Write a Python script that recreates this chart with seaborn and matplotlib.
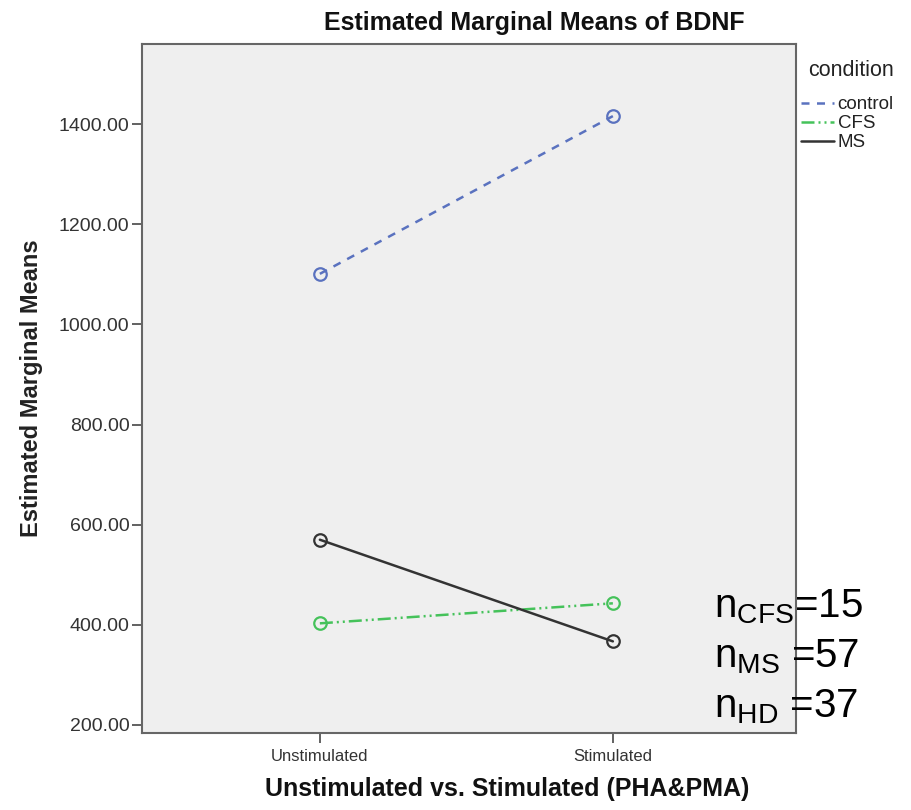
import matplotlib
matplotlib.use("Agg")
import matplotlib.pyplot as plt
from matplotlib.lines import Line2D
import seaborn as sns
import pandas as pd

# ---- data ----
stimulation = ["Unstimulated", "Stimulated"]
conditions = ["control", "CFS", "MS"]
control_means = [1101, 1416]
cfs_means = [403, 443]
ms_means = [570, 367]
n_labels = [("CFS", "=15"), ("MS", " =57"), ("HD", " =37")]

df = pd.DataFrame({
    "stim": stimulation * 3,
    "condition": ["control"] * 2 + ["CFS"] * 2 + ["MS"] * 2,
    "value": control_means + cfs_means + ms_means,
})

sns.set_theme(style="white")
plt.rcParams["font.family"] = ["Liberation Sans", "DejaVu Sans"]
plt.rcParams["mathtext.fontset"] = "custom"
plt.rcParams["mathtext.rm"] = "Liberation Sans"

palette = {"control": "#5a72bf", "CFS": "#45c25a", "MS": "#333333"}
dashes = {"control": (3.2, 3.0), "CFS": (5.2, 1.6, 0.8, 1.6, 0.8, 1.6), "MS": ""}
markers = {"control": "o", "CFS": "o", "MS": "o"}

fig = plt.figure(figsize=(9.12, 8.10), dpi=100)
ax = fig.add_axes([142 / 912, 1 - 733 / 810, (796 - 142) / 912, (733 - 44) / 810])
ax.set_facecolor("#efefef")

sns.lineplot(data=df, x="stim", y="value", hue="condition", style="condition",
             hue_order=conditions, style_order=conditions, palette=palette,
             dashes=dashes, markers=markers, sort=False, legend=False,
             linewidth=1.8, markersize=9, ax=ax)

for ln in ax.lines:
    c = ln.get_color()
    ln.set_markerfacecolor("none")
    ln.set_markeredgecolor(c)
    ln.set_markeredgewidth(1.6)

ax.set_xlim(-0.607, 1.625)
ax.set_ylim(184, 1560)
yticks = [200, 400, 600, 800, 1000, 1200, 1400]
ax.set_yticks(yticks)
ax.set_yticklabels([f"{v:.2f}" for v in yticks])

for s in ax.spines.values():
    s.set_color("#666666")
    s.set_linewidth(1.5)

ax.tick_params(axis="both", which="major", direction="out", length=7.5, width=1.3,
               color="#555555", left=True, bottom=True)
ax.tick_params(axis="y", labelsize=14, labelcolor="#333333", pad=1.5)
ax.tick_params(axis="x", labelsize=12, labelcolor="#333333", pad=4)

ax.set_ylabel("Estimated Marginal Means", fontsize=17, fontweight="bold", color="#222222")
ax.yaxis.set_label_coords((43 - 142) / 654, 0.5)
ax.set_xlabel("")

fig.text(507 / 912, 1 - 789 / 810, "Unstimulated vs. Stimulated (PHA&PMA)",
         fontsize=18, fontweight="bold", ha="center", va="center", color="#111111")
fig.text(534 / 912, 1 - 30 / 810, "Estimated Marginal Means of BDNF",
         fontsize=18, fontweight="bold", ha="center", va="baseline", color="#111111")

# legend built from drawn lines
handles = []
for cond, ln in zip(conditions, ax.lines):
    h = Line2D([], [], color=ln.get_color(), linewidth=1.8)
    if cond != "MS":
        h.set_dashes(dashes[cond])
    handles.append(h)
fig.text(808 / 912, 1 - 71 / 810, "condition", fontsize=15.5, ha="left", va="center",
         color="#222222")
leg = ax.legend(handles, conditions, loc="upper left",
                bbox_to_anchor=(801 / 912, 1 - 96 / 810), bbox_transform=fig.transFigure,
                frameon=False, fontsize=13.5, handlelength=1.75,
                handletextpad=0.2, labelspacing=0.1, borderpad=0, borderaxespad=0)
for t in leg.get_texts():
    t.set_color("#222222")

# sample-size annotations
baselines = [617, 667, 717]
for (sub, rest), yb in zip(n_labels, baselines):
    fig.text(714 / 912, 1 - yb / 810, r"n$_{\mathrm{%s}}$%s" % (sub, rest),
             fontsize=29, ha="left", va="baseline", color="#000000")

fig.savefig("out.png", dpi=100, facecolor="white")
